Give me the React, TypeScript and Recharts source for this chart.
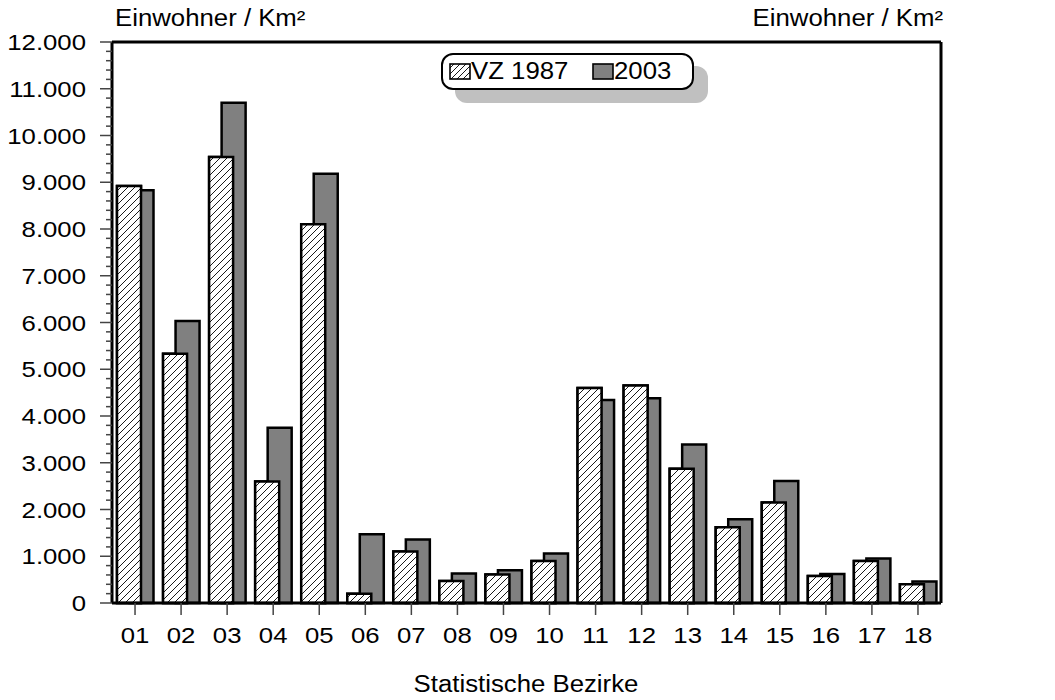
import { BarChart, Bar, XAxis, YAxis, ReferenceLine } from "recharts";

// Einwohnerdichte nach statistischen Bezirken — VZ 1987 vs. 2003

const FONT = '"Liberation Sans", Arial, Helvetica, sans-serif';
const FS = 23;
const STRETCH = 1.12; // die Vorlage ist horizontal etwas gestreckt

const bezirke = ["01", "02", "03", "04", "05", "06", "07", "08", "09", "10", "11", "12", "13", "14", "15", "16", "17", "18"];
const vz1987 = [8920, 5330, 9540, 2600, 8100, 200, 1100, 470, 610, 900, 4600, 4650, 2870, 1620, 2150, 580, 900, 400];
const jahr2003 = [8830, 6030, 10700, 3750, 9180, 1470, 1360, 630, 700, 1060, 4340, 4380, 3390, 1790, 2610, 620, 950, 460];

const majorTicks = [0, 1000, 2000, 3000, 4000, 5000, 6000, 7000, 8000, 9000, 10000, 11000, 12000];
const allTicks = Array.from({ length: 61 }, (_, i) => i * 200);

const data = bezirke.map((b, i) => ({ bezirk: b, vz1987: vz1987[i], j2003: jahr2003[i] }));

const fmt = (v: number) => String(v).replace(/\B(?=(\d{3})+(?!\d))/g, ".");
const isMajor = (v: number) => majorTicks.includes(v);

function SText({ x, y, anchor, baseline, children }: any) {
  return (
    <text
      transform={`translate(${x},${y}) scale(${STRETCH},1)`}
      textAnchor={anchor}
      dominantBaseline={baseline}
      fontSize={FS}
      fill="#000"
    >
      {children}
    </text>
  );
}

function LeftTick(props: any) {
  const { x, y, payload } = props;
  const major = isMajor(payload.value);
  return (
    <g>
      <line x1={x - (major ? 12 : 6)} x2={x} y1={y} y2={y} stroke="#444" strokeWidth={1.5} />
      {major && (
        <SText x={x - 26} y={y} anchor="end" baseline="central">
          {fmt(payload.value)}
        </SText>
      )}
    </g>
  );
}

function RightTick(props: any) {
  const { x, y, payload } = props;
  const major = isMajor(payload.value);
  return (
    <g>
      <line x1={x} x2={x + (major ? 12 : 6)} y1={y} y2={y} stroke="#444" strokeWidth={1.5} />
      {major && (
        <SText x={x + 25} y={y} anchor="start" baseline="central">
          {fmt(payload.value)}
        </SText>
      )}
    </g>
  );
}

function BottomTick(props: any) {
  const { x, y, payload } = props;
  return (
    <SText x={x} y={y + 17} anchor="middle" baseline="alphabetic">
      {payload.value}
    </SText>
  );
}

function Swatch({ hatched }: { hatched: boolean }) {
  return (
    <svg width={22} height={17} style={{ display: "block" }}>
      <defs>
        <pattern id="hatchLegend" patternUnits="userSpaceOnUse" width={6} height={6}>
          <rect width={6} height={6} fill="#fff" />
          <path d="M-1,1 L1,-1 M0,6 L6,0 M5,7 L7,5" stroke="#000" strokeWidth={0.9} />
        </pattern>
      </defs>
      <rect x={1} y={1} width={20} height={15} fill={hatched ? "url(#hatchLegend)" : "#808080"} stroke="#000" strokeWidth={1.6} />
    </svg>
  );
}

export default function App() {
  const textStyle = { fontSize: FS, color: "#000", lineHeight: `${FS}px`, whiteSpace: "nowrap" as const };
  return (
    <div style={{ position: "absolute", left: 0, top: 0, width: 1055, height: 700, background: "#fff", fontFamily: FONT }}>
      <BarChart
        width={1055}
        height={700}
        data={data}
        margin={{ top: 42, right: 0, bottom: 0, left: 0 }}
        barSize={24}
        barGap={-11.5}
      >
        <defs>
          <pattern id="hatch" patternUnits="userSpaceOnUse" width={7} height={7}>
            <rect width={7} height={7} fill="#fff" />
            <path d="M-1,1 L1,-1 M0,7 L7,0 M6,8 L8,6" stroke="#000" strokeWidth={0.9} />
          </pattern>
        </defs>
        <XAxis
          xAxisId="main"
          dataKey="bezirk"
          height={97}
          interval={0}
          tickSize={12}
          tickMargin={11}
          tickLine={{ stroke: "#444", strokeWidth: 1.5 }}
          axisLine={{ stroke: "#000", strokeWidth: 3 }}
          tick={<BottomTick />}
        />
        <XAxis xAxisId="front" dataKey="bezirk" hide height={0} />
        <YAxis
          yAxisId="left"
          orientation="left"
          width={112}
          domain={[0, 12000]}
          ticks={allTicks}
          interval={0}
          tickSize={0}
          tickMargin={0}
          tickLine={false}
          axisLine={{ stroke: "#000", strokeWidth: 3 }}
          tick={<LeftTick />}
        />
        <YAxis
          yAxisId="right"
          orientation="right"
          width={114}
          domain={[0, 12000]}
          ticks={allTicks}
          interval={0}
          tickSize={0}
          tickMargin={0}
          tickLine={false}
          axisLine={{ stroke: "#000", strokeWidth: 3 }}
          tick={<RightTick />}
        />
        <Bar xAxisId="main" yAxisId="left" dataKey="vz1987" name="VZ 1987" fill="url(#hatch)" stroke="#000" strokeWidth={2.5} isAnimationActive={false} />
        <Bar xAxisId="main" yAxisId="left" dataKey="j2003" name="2003" fill="#808080" stroke="#000" strokeWidth={2.5} isAnimationActive={false} />
        {/* VZ 1987 noch einmal obenauf, damit die schraffierten Säulen vorne liegen */}
        <Bar xAxisId="front" yAxisId="left" dataKey="vz1987" fill="url(#hatch)" stroke="#000" strokeWidth={2.5} isAnimationActive={false} legendType="none" />
        <Bar xAxisId="front" yAxisId="left" dataKey="j2003" fill="none" stroke="none" isAnimationActive={false} legendType="none" />
        <ReferenceLine xAxisId="main" yAxisId="left" y={12000} stroke="#000" strokeWidth={3} />
      </BarChart>

      <div style={{ ...textStyle, position: "absolute", left: 115, top: 7, transform: `scaleX(${STRETCH})`, transformOrigin: "0 0" }}>
        Einwohner / Km²
      </div>
      <div
        style={{
          ...textStyle,
          position: "absolute",
          left: 0,
          width: 943,
          top: 7,
          textAlign: "right",
          transform: `scaleX(${STRETCH})`,
          transformOrigin: "943px 0",
        }}
      >
        Einwohner / Km²
      </div>
      <div
        style={{
          ...textStyle,
          position: "absolute",
          left: 0,
          width: 1052,
          top: 673,
          textAlign: "center",
          transform: `scaleX(${STRETCH})`,
          transformOrigin: "526px 0",
        }}
      >
        Statistische Bezirke
      </div>

      <div
        style={{
          position: "absolute",
          left: 441,
          top: 53,
          width: 253,
          height: 37,
          boxSizing: "border-box",
          border: "2px solid #000",
          borderRadius: 12,
          background: "#fff",
          boxShadow: "14px 13px 0 #c0c0c0",
          display: "flex",
          alignItems: "center",
          paddingLeft: 6,
        }}
      >
        <Swatch hatched />
        <span style={{ ...textStyle, display: "inline-block", width: 96, transform: `scaleX(${STRETCH})`, transformOrigin: "0 0" }}>VZ 1987</span>
        <span style={{ width: 25 }} />
        <Swatch hatched={false} />
        <span style={{ ...textStyle, display: "inline-block", transform: `scaleX(${STRETCH})`, transformOrigin: "0 0" }}>2003</span>
      </div>
    </div>
  );
}
